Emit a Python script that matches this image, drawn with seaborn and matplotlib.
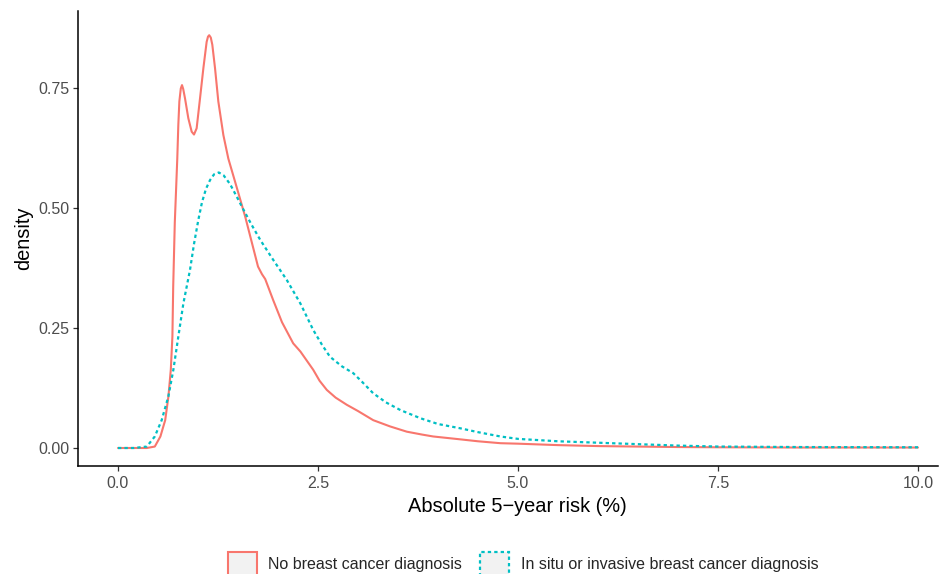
import numpy as np
import pandas as pd
import matplotlib
matplotlib.use("Agg")
import matplotlib.pyplot as plt
from matplotlib.patches import Patch
import seaborn as sns

# Data
no_bc_x = [0.0, 0.30, 0.36, 0.46, 0.53, 0.59, 0.63, 0.66, 0.68, 0.69, 0.71, 0.725, 0.741, 0.754,
           0.767, 0.785, 0.80, 0.815, 0.838, 0.879, 0.921, 0.95, 0.983, 1.025, 1.067, 1.108,
           1.125, 1.14, 1.16, 1.179, 1.213, 1.254, 1.317, 1.379, 1.463, 1.59, 1.67, 1.75,
           1.80, 1.84, 1.94, 2.05, 2.19, 2.28, 2.36, 2.44, 2.52, 2.61, 2.72, 2.86, 3.00,
           3.19, 3.40, 3.61, 3.80, 3.94, 4.28, 4.50, 4.78, 5.0, 5.5, 6.0, 6.5, 7.0, 7.5,
           8.5, 10.0]
no_bc_y = [0.0, 0.0, 0.0, 0.003, 0.024, 0.058, 0.107, 0.163, 0.232, 0.336, 0.470, 0.534, 0.603, 0.673,
           0.722, 0.749, 0.756, 0.748, 0.728, 0.687, 0.659, 0.653, 0.666, 0.728, 0.791, 0.846,
           0.857, 0.860, 0.855, 0.840, 0.791, 0.722, 0.652, 0.603, 0.555, 0.482, 0.430, 0.378,
           0.362, 0.352, 0.308, 0.262, 0.218, 0.201, 0.182, 0.163, 0.140, 0.121, 0.105, 0.090, 0.077,
           0.058, 0.045, 0.034, 0.028, 0.024, 0.018, 0.014, 0.010, 0.009, 0.006, 0.004, 0.003, 0.002, 0.0015,
           0.001, 0.001]

bc_x = [0.0, 0.2, 0.36, 0.46, 0.546, 0.629, 0.692, 0.754, 0.817, 0.90, 0.95, 1.004, 1.05, 1.10,
        1.15, 1.20, 1.26, 1.32, 1.40, 1.48, 1.57, 1.67, 1.78, 1.94, 2.11, 2.28, 2.44, 2.55,
        2.65, 2.80, 2.94, 3.05, 3.19, 3.35, 3.53, 3.78, 4.00, 4.28, 4.50, 4.78, 5.0, 5.5,
        6.0, 6.5, 7.0, 7.5, 8.5, 10.0]
bc_y = [0.0, 0.0, 0.003, 0.024, 0.058, 0.107, 0.163, 0.232, 0.301, 0.371, 0.425, 0.475, 0.512, 0.540,
        0.558, 0.570, 0.574, 0.568, 0.550, 0.525, 0.496, 0.465, 0.433, 0.392, 0.350, 0.301, 0.246, 0.215,
        0.190, 0.170, 0.156, 0.138, 0.114, 0.095, 0.079, 0.062, 0.050, 0.041, 0.033, 0.024, 0.019, 0.014,
        0.011, 0.008, 0.005, 0.003, 0.002, 0.0015]

labels = ["No breast cancer diagnosis", "In situ or invasive breast cancer diagnosis"]
colors = ["#F8766D", "#00BFC4"]
x_ticks = [0.0, 2.5, 5.0, 7.5, 10.0]
y_ticks = [0.00, 0.25, 0.50, 0.75]

sns.set_style("ticks")
plt.rcParams["font.family"] = ["Liberation Sans", "DejaVu Sans"]

fig = plt.figure(figsize=(9.45, 5.74), dpi=100)
ax = fig.add_axes([78 / 945, (574 - 466) / 574, (938 - 78) / 945, (466 - 11) / 574])

df1 = pd.DataFrame({"x": no_bc_x, "y": no_bc_y})
df2 = pd.DataFrame({"x": bc_x, "y": bc_y})
sns.lineplot(data=df1, x="x", y="y", ax=ax, color=colors[0], linewidth=1.5, sort=False)
sns.lineplot(data=df2, x="x", y="y", ax=ax, color=colors[1], linewidth=1.6, sort=False)
ax.lines[1].set_dashes((1.5, 1.4))
for ln in ax.lines:
    ln.set_solid_joinstyle("round")
    ln.set_dash_joinstyle("round")

ax.set_xlim(-0.5, 10.25)
ax.set_ylim(-0.0375, 0.9104)
ax.set_xticks(x_ticks)
ax.set_xticklabels([f"{v:.1f}" for v in x_ticks])
ax.set_yticks(y_ticks)
ax.set_yticklabels([f"{v:.2f}" for v in y_ticks])
ax.tick_params(axis="both", labelsize=11.5, labelcolor="#4D4D4D", color="#333333",
               length=3.5, width=0.9, pad=2.5)
ax.tick_params(axis="x", pad=4)
for s in ["left", "bottom"]:
    ax.spines[s].set_color("black")
    ax.spines[s].set_linewidth(1.1)
sns.despine(ax=ax)
ax.set_xlabel("Absolute 5\u2212year risk (%)", fontsize=14.4, color="black")
ax.xaxis.set_label_coords((517.5 - 78) / 860, -(506 - 466) / 455, transform=ax.transAxes)
ax.xaxis.label.set_va("center")
ax.set_ylabel("density", fontsize=14.4, color="black", labelpad=4)

handles = [
    Patch(facecolor="#F2F2F2", edgecolor=colors[0], linewidth=1.5, linestyle="-"),
    Patch(facecolor="#F2F2F2", edgecolor=colors[1], linewidth=1.6, linestyle=(0, (1.5, 1.4))),
]
fig.legend(handles=handles, labels=labels, loc="center", ncol=2,
           bbox_to_anchor=(523 / 945, 10 / 574), frameon=False, fontsize=11.5,
           handlelength=1.85, handleheight=1.85, handletextpad=0.7, columnspacing=1.1,
           borderpad=0, borderaxespad=0)

fig.savefig("out.png", dpi=100)
